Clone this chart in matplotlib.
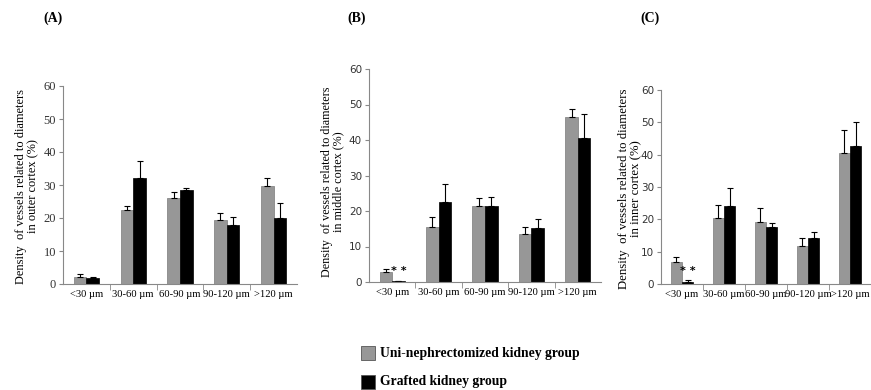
import numpy as np
import matplotlib
matplotlib.use("Agg")
import matplotlib.pyplot as plt
from matplotlib.patches import Rectangle

categories = ["<30 µm", "30-60 µm", "60-90 µm", "90-120 µm", ">120 µm"]
regions = ["outer cortex", "middle cortex", "inner cortex"]
panel_tags = ["(A)", "(B)", "(C)"]

# panel A (outer cortex)
uni_a = [2.0, 22.5, 26.0, 19.5, 29.8]
uni_a_err = [1.0, 1.0, 2.0, 2.0, 2.2]
graft_a = [1.7, 32.0, 28.5, 17.8, 20.0]
graft_a_err = [0.5, 5.3, 0.7, 2.5, 4.5]

# panel B (middle cortex)
uni_b = [2.7, 15.5, 21.3, 13.5, 46.5]
uni_b_err = [1.0, 2.8, 2.5, 2.0, 2.3]
graft_b = [0.2, 22.5, 21.3, 15.3, 40.5]
graft_b_err = [0.0, 5.2, 2.7, 2.5, 6.8]

# panel C (inner cortex)
uni_c = [6.8, 20.5, 19.3, 11.7, 40.5]
uni_c_err = [1.5, 3.8, 4.2, 2.6, 7.2]
graft_c = [0.6, 24.0, 17.5, 14.2, 42.8]
graft_c_err = [0.5, 5.7, 1.3, 1.8, 7.4]

uni_all = [uni_a, uni_b, uni_c]
uni_err_all = [uni_a_err, uni_b_err, uni_c_err]
graft_all = [graft_a, graft_b, graft_c]
graft_err_all = [graft_a_err, graft_b_err, graft_c_err]

legend_labels = ["Uni-nephrectomized kidney group", "Grafted kidney group"]
c_uni = "#979797"
c_graft = "#000000"

serif = "Liberation Serif"
sans = "DejaVu Sans"

fig = plt.figure(figsize=(8.71, 3.9), dpi=100)

# axes boxes in pixels: left, right, bottom(y of 0), top(y of 60)
boxes = [(63, 297, 284, 86), (369, 601, 282, 69), (661, 871, 284, 90)]
tick_fonts = [serif, sans, sans]
tick_sizes = [9, 7.5, 7.5]
ylab_sizes = [8.9, 8.7, 9.2]
ylab_pos = [(27.5, 186), (332.5, 182), (630, 189)]
tag_pos = [(43, 18), (347, 18), (640, 18)]

W, H = 871, 390
x = np.arange(len(categories))
bw = 0.27

for i in range(3):
    l, r, b, t = boxes[i]
    ax = fig.add_axes([l / W, 1 - b / H, (r - l) / W, (b - t) / H])
    ax.bar(x - bw / 2, uni_all[i], bw, color=c_uni, edgecolor="#7a7a7a", linewidth=0.5)
    ax.bar(x + bw / 2, graft_all[i], bw, color=c_graft, edgecolor="black", linewidth=0.5)
    ax.errorbar(x - bw / 2, uni_all[i], yerr=[np.zeros(5), uni_err_all[i]], fmt="none",
                ecolor="black", elinewidth=0.8, capsize=2.5, capthick=0.8)
    ax.errorbar(x + bw / 2, graft_all[i], yerr=[np.zeros(5), graft_err_all[i]], fmt="none",
                ecolor="black", elinewidth=0.8, capsize=2.5, capthick=0.8)
    ax.set_xlim(-0.5, 4.5)
    ax.set_ylim(0, 60)
    ax.set_yticks(range(0, 61, 10))
    ax.set_xticks(x)
    ax.set_xticklabels(categories, fontsize=7.6, family=serif)
    ax.set_xticks(np.arange(0.5, 4.5, 1), minor=True)
    ax.tick_params(axis="x", which="major", length=0, pad=4)
    ax.tick_params(axis="x", which="minor", length=4, color="#888888", direction="out")
    ax.tick_params(axis="y", length=3, color="#888888", labelsize=tick_sizes[i], pad=2)
    for lab in ax.get_yticklabels():
        lab.set_family(tick_fonts[i])
        lab.set_color("#333333")
    for s in ["top", "right"]:
        ax.spines[s].set_visible(False)
    for s in ["left", "bottom"]:
        ax.spines[s].set_color("#888888")
        ax.spines[s].set_linewidth(0.8)
    fig.text(ylab_pos[i][0] / W, 1 - ylab_pos[i][1] / H,
             "Density  of vessels related to diameters\nin " + regions[i] + " (%)",
             fontsize=ylab_sizes[i], family=serif, rotation=90, ha="center", va="center",
             linespacing=1.0)
    if i > 0:
        ax.text(x[0] + bw / 2, graft_all[i][0] + graft_err_all[i][0] + 1.5, "* *",
                ha="center", va="bottom", fontsize=8, fontweight="bold", family=sans)
    fig.text(tag_pos[i][0] / W, 1 - tag_pos[i][1] / H, panel_tags[i], fontsize=10,
             fontweight="bold", family=serif, ha="left", va="center")

# legend drawn manually
for k, (lab, col) in enumerate(zip(legend_labels, [c_uni, c_graft])):
    yc = 353 + k * 29
    fig.patches.append(Rectangle((361 / W, 1 - (yc + 7) / H), 14 / W, 14 / H,
                                 transform=fig.transFigure, facecolor=col,
                                 edgecolor="#555555", linewidth=0.6))
    fig.text(380 / W, 1 - yc / H, lab, fontsize=9.8, fontweight="bold", family=serif,
             ha="left", va="center")

fig.savefig("out.png", dpi=100)
